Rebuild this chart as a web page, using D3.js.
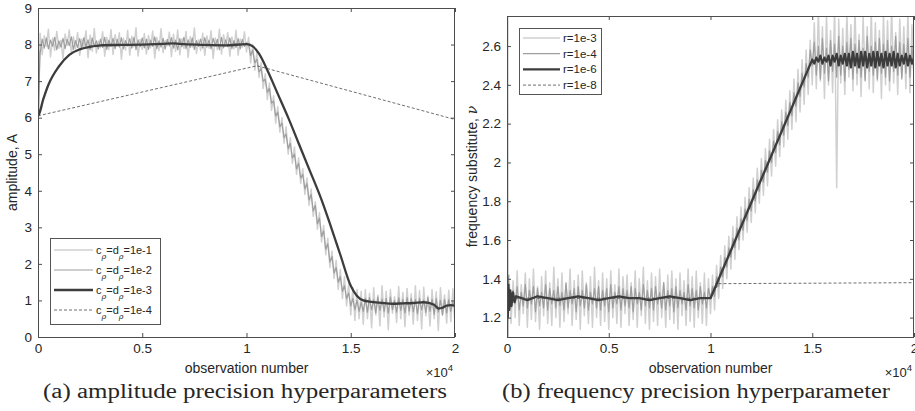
<!DOCTYPE html>
<html>
<head>
<meta charset="utf-8">
<script src="https://cdn.jsdelivr.net/npm/d3@7"></script>
<style>
  body { margin: 0; background: #fff; }
  svg text { font-family: "Liberation Sans", Arial, sans-serif; fill: #262626; }
  .caption { font-family: "Liberation Serif", "DejaVu Serif", serif; }
</style>
</head>
<body>
<div id="chart"></div>
<script>
// observations between consecutive samples of the noisy series
const STEP = 100;

const xTicks = [0, 5000, 10000, 15000, 20000];
const xTickLabels = ["0", "0.5", "1", "1.5", "2"];
const ampTicks = [0, 1, 2, 3, 4, 5, 6, 7, 8, 9];
const freqTicks = [1.2, 1.4, 1.6, 1.8, 2.0, 2.2, 2.4, 2.6];
const freqTickLabels = ["1.2", "1.4", "1.6", "1.8", "2", "2.2", "2.4", "2.6"];

const ampLegend = ["1e-1", "1e-2", "1e-3", "1e-4"];
const freqLegend = ["r=1e-3", "r=1e-4", "r=1e-6", "r=1e-8"];

// (a) c=d=1e-1, sampled every STEP observations
const amp1 = [6.0,
  8.31, 7.72, 8.24, 7.95, 8.42, 7.66, 8.18, 7.84, 8.36, 7.9,
  8.12, 7.61, 8.29, 7.98, 8.4, 7.75, 8.21, 7.88, 8.33, 7.7,
  8.15, 7.93, 8.38, 7.64, 8.26, 7.82, 8.44, 7.77, 8.1, 7.92,
  8.35, 7.68, 8.2, 7.86, 8.41, 7.73, 8.27, 7.96, 8.32, 7.6,
  8.17, 7.85, 8.39, 7.71, 8.23, 7.94, 8.46, 7.69, 8.14, 7.87,
  8.3, 7.74, 8.25, 7.91, 8.37, 7.63, 8.19, 7.83, 8.43, 7.78,
  8.11, 7.97, 8.34, 7.67, 8.28, 7.81, 8.4, 7.72, 8.16, 7.89,
  8.36, 7.65, 8.22, 7.93, 8.45, 7.76, 8.13, 7.84, 8.31, 7.7,
  8.24, 7.9, 8.38, 7.62, 8.18, 7.86, 8.42, 7.74, 8.27, 7.95,
  8.33, 7.68, 8.21, 7.88, 8.39, 7.71, 8.15, 7.92, 8.35, 7.8,
  8.2, 7.5, 8.0, 7.3, 7.8, 7.1, 7.5, 6.8, 7.2, 6.5,
  6.95, 6.2, 6.6, 5.85, 6.3, 5.6, 6.0, 5.3, 5.75, 5.0,
  5.45, 4.75, 5.2, 4.45, 4.9, 4.2, 4.6, 3.9, 4.35, 3.6,
  4.05, 3.3, 3.7, 2.95, 3.4, 2.6, 3.05, 2.25, 2.7, 1.9,
  2.35, 1.6, 2.1, 1.3, 1.85, 1.05, 1.65, 0.85, 1.45, 0.6,
  1.35, 0.45, 1.3, 0.5, 1.25,
  0.35, 1.3, 0.5, 1.2, 0.25, 1.35, 0.6, 1.15, 0.3, 1.4,
  0.55, 1.25, 0.2, 1.3, 0.65, 1.1, 0.4, 1.38, 0.5, 1.22,
  0.28, 1.33, 0.6, 1.18, 0.35, 1.4, 0.45, 1.27, 0.22, 1.36,
  0.58, 1.12, 0.3, 1.3, 0.5, 1.24, 0.18, 1.35, 0.62, 1.15,
  0.38, 1.28, 0.42, 1.32, 0.3];

// (a) c=d=1e-2
const amp2 = [6.0,
  7.75, 8.15, 7.9, 8.18, 7.88, 8.12, 7.95, 8.2, 7.86, 8.1,
  7.93, 8.17, 7.89, 8.14, 7.97, 8.21, 7.87, 8.11, 7.92, 8.16,
  7.9, 8.19, 7.94, 8.13, 7.86, 8.18, 7.96, 8.1, 7.88, 8.15,
  7.92, 8.2, 7.87, 8.12, 7.95, 8.17, 7.89, 8.14, 7.93, 8.19,
  7.88, 8.11, 7.96, 8.16, 7.9, 8.2, 7.86, 8.13, 7.94, 8.18,
  7.91, 8.15, 7.87, 8.12, 7.95, 8.21, 7.89, 8.1, 7.93, 8.17,
  7.88, 8.14, 7.96, 8.19, 7.9, 8.12, 7.86, 8.16, 7.94, 8.2,
  7.89, 8.13, 7.92, 8.18, 7.87, 8.11, 7.95, 8.15, 7.9, 8.19,
  7.93, 8.12, 7.88, 8.17, 7.96, 8.14, 7.86, 8.2, 7.91, 8.13,
  7.94, 8.18, 7.89, 8.11, 7.92, 8.16, 7.88, 8.14, 7.95, 8.05,
  8.0, 7.7, 7.85, 7.5, 7.6, 7.25, 7.35, 7.0, 7.05, 6.7,
  6.8, 6.4, 6.45, 6.05, 6.15, 5.75, 5.85, 5.45, 5.55, 5.15,
  5.3, 4.9, 5.0, 4.6, 4.75, 4.35, 4.45, 4.05, 4.2, 3.75,
  3.9, 3.45, 3.6, 3.1, 3.25, 2.75, 2.9, 2.4, 2.55, 2.05,
  2.2, 1.75, 1.9, 1.5, 1.65, 1.25, 1.4, 1.05, 1.2, 0.85,
  1.05, 0.75, 1.0, 0.7, 0.95,
  0.7, 1.05, 0.68, 1.08, 0.74, 1.02, 0.66, 1.1, 0.72, 1.04,
  0.7, 1.06, 0.65, 1.09, 0.75, 1.0, 0.68, 1.07, 0.73, 1.03,
  0.66, 1.08, 0.71, 1.05, 0.69, 1.02, 0.64, 1.06, 0.74, 1.01,
  0.67, 1.08, 0.7, 1.04, 0.62, 1.05, 0.68, 1.0, 0.6, 1.03,
  0.66, 1.02, 0.7, 0.98, 0.75];

// (a) c=d=1e-3
const amp3X = [0, 5, 250, 500, 1000, 1500, 2000, 2500, 3000, 4000,
  5000, 6000, 6500, 7000, 8000, 9000, 10000, 10300, 10600, 11000,
  11500, 12000, 12500, 13000, 13600, 14000, 14500, 15000, 15300, 15600,
  16000, 16500, 17000, 17500, 18000, 18500, 19000, 19200, 19400, 19600,
  19800, 20000];
const amp3Y = [7.85, 6.05, 6.5, 6.9, 7.4, 7.72, 7.87, 7.94, 7.98, 7.99,
  8.0, 8.02, 8.03, 8.01, 7.99, 7.98, 8.01, 7.95, 7.75, 7.3,
  6.65, 6.0, 5.3, 4.6, 3.75, 3.1, 2.25, 1.4, 1.12, 1.0,
  0.96, 0.93, 0.91, 0.92, 0.93, 0.95, 0.88, 0.78, 0.8, 0.86,
  0.87, 0.86];

// (a) c=d=1e-4
const amp4X = [0, 10500, 20000];
const amp4Y = [6.05, 7.42, 5.95];

// (b) r=1e-3
const freq3 = [1.3,
  1.42, 1.17, 1.39, 1.2, 1.44, 1.16, 1.37, 1.22, 1.43, 1.15,
  1.4, 1.19, 1.45, 1.18, 1.36, 1.14, 1.41, 1.21, 1.44, 1.17,
  1.38, 1.16, 1.46, 1.2, 1.4, 1.15, 1.43, 1.18, 1.37, 1.22,
  1.45, 1.16, 1.39, 1.19, 1.42, 1.14, 1.44, 1.21, 1.38, 1.17,
  1.41, 1.15, 1.46, 1.2, 1.39, 1.16, 1.43, 1.18, 1.4, 1.14,
  1.44, 1.2, 1.37, 1.17, 1.45, 1.15, 1.41, 1.22, 1.42, 1.16,
  1.38, 1.19, 1.44, 1.15, 1.4, 1.21, 1.46, 1.17, 1.39, 1.14,
  1.43, 1.18, 1.41, 1.16, 1.45, 1.2, 1.38, 1.15, 1.42, 1.19,
  1.44, 1.17, 1.4, 1.14, 1.43, 1.21, 1.39, 1.16, 1.45, 1.18,
  1.41, 1.15, 1.44, 1.2, 1.38, 1.17, 1.43, 1.16, 1.4, 1.22,
  1.42, 1.24, 1.47, 1.3, 1.52, 1.35, 1.57, 1.4, 1.62, 1.45,
  1.67, 1.5, 1.72, 1.55, 1.77, 1.6, 1.82, 1.64, 1.87, 1.69,
  1.92, 1.74, 1.97, 1.79, 2.02, 1.83, 2.07, 1.88, 2.12, 1.93,
  2.17, 1.98, 2.22, 2.03, 2.27, 2.08, 2.32, 2.12, 2.37, 2.17,
  2.43, 2.21, 2.48, 2.26, 2.53, 2.3, 2.58, 2.35, 2.63, 2.4,
  2.72, 2.38, 2.78, 2.42, 2.7, 2.33, 2.76, 2.4, 2.68, 2.36,
  2.8, 1.87, 2.74, 2.41, 2.69, 2.35, 2.77, 2.44, 2.71, 2.37,
  2.79, 2.4, 2.66, 2.34, 2.75, 2.43, 2.7, 2.38, 2.78, 2.36,
  2.72, 2.42, 2.68, 2.33, 2.76, 2.4, 2.73, 2.37, 2.8, 2.41,
  2.67, 2.35, 2.74, 2.44, 2.7, 2.38, 2.77, 2.36, 2.71, 2.42];

// (b) r=1e-4
const freq4 = [1.3,
  1.35, 1.25, 1.34, 1.27, 1.36, 1.24, 1.33, 1.26, 1.37, 1.25,
  1.34, 1.27, 1.36, 1.23, 1.35, 1.26, 1.33, 1.25, 1.37, 1.24,
  1.35, 1.27, 1.34, 1.25, 1.36, 1.26, 1.33, 1.24, 1.38, 1.25,
  1.34, 1.27, 1.35, 1.23, 1.36, 1.26, 1.34, 1.25, 1.37, 1.24,
  1.33, 1.27, 1.35, 1.25, 1.36, 1.24, 1.34, 1.26, 1.35, 1.23,
  1.37, 1.25, 1.33, 1.27, 1.36, 1.24, 1.35, 1.26, 1.34, 1.25,
  1.36, 1.23, 1.35, 1.27, 1.33, 1.24, 1.37, 1.26, 1.34, 1.25,
  1.35, 1.24, 1.36, 1.27, 1.33, 1.25, 1.38, 1.24, 1.34, 1.26,
  1.35, 1.23, 1.36, 1.25, 1.34, 1.27, 1.33, 1.24, 1.37, 1.26,
  1.35, 1.25, 1.34, 1.24, 1.36, 1.27, 1.33, 1.25, 1.35, 1.3,
  1.36, 1.31, 1.41, 1.36, 1.46, 1.41, 1.51, 1.46, 1.56, 1.51,
  1.61, 1.56, 1.66, 1.6, 1.71, 1.65, 1.76, 1.7, 1.81, 1.75,
  1.86, 1.8, 1.91, 1.85, 1.96, 1.9, 2.01, 1.95, 2.06, 2.0,
  2.11, 2.05, 2.16, 2.09, 2.21, 2.14, 2.26, 2.19, 2.31, 2.24,
  2.36, 2.29, 2.41, 2.34, 2.46, 2.39, 2.51, 2.44, 2.58, 2.5,
  2.62, 2.45, 2.6, 2.43, 2.64, 2.46, 2.59, 2.42, 2.63, 2.47,
  2.61, 2.44, 2.65, 2.45, 2.6, 2.42, 2.62, 2.48, 2.64, 2.43,
  2.61, 2.46, 2.63, 2.44, 2.59, 2.42, 2.65, 2.47, 2.6, 2.45,
  2.62, 2.43, 2.64, 2.46, 2.61, 2.44, 2.63, 2.42, 2.6, 2.47,
  2.65, 2.45, 2.62, 2.43, 2.61, 2.46, 2.64, 2.44, 2.6, 2.45];

// (b) r=1e-6: start-up transient, flat part and ramp
const freq6X = [0, 5, 15, 40, 70, 110, 160, 220, 290, 370, 450,
  1000, 1500, 2000, 2500, 3000, 3500, 4000, 4500, 5000, 5500,
  6000, 6500, 7000, 7500, 8000, 8500, 9000, 9500, 10000, 15000];
const freq6Y = [3.0, 0.95, 1.42, 1.2, 1.37, 1.24, 1.34, 1.26, 1.33, 1.28, 1.31,
  1.29, 1.31, 1.3, 1.29, 1.3, 1.31, 1.3, 1.29, 1.3, 1.31,
  1.3, 1.3, 1.29, 1.3, 1.31, 1.3, 1.29, 1.3, 1.3, 2.53];
// (b) r=1e-6 after 15000, every STEP observations
const freq6Tail = [
  2.51, 2.54, 2.52, 2.55, 2.51, 2.54, 2.52, 2.55, 2.5, 2.55,
  2.52, 2.56, 2.5, 2.55, 2.51, 2.56, 2.5, 2.56, 2.49, 2.57,
  2.5, 2.56, 2.49, 2.57, 2.5, 2.57, 2.49, 2.56, 2.5, 2.57,
  2.49, 2.57, 2.5, 2.56, 2.49, 2.57, 2.5, 2.56, 2.5, 2.57,
  2.49, 2.56, 2.5, 2.55, 2.51, 2.56, 2.5, 2.55, 2.51, 2.54];

// (b) r=1e-8
const freq8X = [0, 10000, 10400, 20000];
const freq8Y = [1.3, 1.3, 1.375, 1.38];

const width = 915, height = 411;
const svg = d3.select('#chart').append('svg')
  .attr('width', width)
  .attr('height', height);

const stepped = (arr, start) => arr.map((v, i) => [start + i * STEP, v]);
const paired = (xs, ys) => xs.map((x, i) => [x, ys[i]]);

const styles = [
  { stroke: '#d0d0d0', width: 1.5, dash: null },
  { stroke: '#9e9e9e', width: 1.2, dash: null },
  { stroke: '#3c3c3c', width: 2.3, dash: null },
  { stroke: '#4a4a4a', width: 0.8, dash: '3,2' }
];

function drawPanel(cfg) {
  const x = d3.scaleLinear().domain([0, 20000]).range([cfg.left, cfg.right]);
  const y = d3.scaleLinear().domain(cfg.yDomain).range([cfg.bottom, cfg.top]);
  const g = svg.append('g');

  const clipId = 'clip-' + cfg.id;
  svg.append('clipPath').attr('id', clipId)
    .append('rect')
    .attr('x', cfg.left).attr('y', cfg.top)
    .attr('width', cfg.right - cfg.left).attr('height', cfg.bottom - cfg.top);

  const plot = g.append('g').attr('clip-path', `url(#${clipId})`);
  cfg.series.forEach((s, i) => {
    const line = d3.line().x(d => x(d[0])).y(d => y(d[1]))
      .curve(cfg.curves && cfg.curves[i] ? cfg.curves[i] : d3.curveLinear);
    plot.append('path')
      .datum(s)
      .attr('fill', 'none')
      .attr('stroke', styles[i].stroke)
      .attr('stroke-width', styles[i].width)
      .attr('stroke-dasharray', styles[i].dash)
      .attr('stroke-linejoin', 'round')
      .attr('d', line);
  });

  // axes, ticks pointing inwards on all four sides
  const axisColor = '#4d4d4d';
  const bottomAxis = g.append('g').attr('transform', `translate(0,${cfg.bottom})`)
    .call(d3.axisBottom(x).tickValues(xTicks).tickFormat((d, i) => xTickLabels[i])
      .tickSizeInner(-4).tickSizeOuter(0).tickPadding(6));
  const topAxis = g.append('g').attr('transform', `translate(0,${cfg.top})`)
    .call(d3.axisTop(x).tickValues(xTicks).tickFormat('').tickSizeInner(-4).tickSizeOuter(0));
  const leftAxis = g.append('g').attr('transform', `translate(${cfg.left},0)`)
    .call(d3.axisLeft(y).tickValues(cfg.yTicks).tickFormat((d, i) => cfg.yTickLabels[i])
      .tickSizeInner(-4).tickSizeOuter(0).tickPadding(6));
  const rightAxis = g.append('g').attr('transform', `translate(${cfg.right},0)`)
    .call(d3.axisRight(y).tickValues(cfg.yTicks).tickFormat('').tickSizeInner(-4).tickSizeOuter(0));
  [bottomAxis, topAxis, leftAxis, rightAxis].forEach(a => {
    a.select('.domain').remove();
    a.selectAll('line').attr('stroke', axisColor);
    a.selectAll('text').attr('font-size', 13.5).attr('fill', '#262626')
      .attr('font-family', '"Liberation Sans", Arial, sans-serif');
  });
  g.append('rect')
    .attr('x', cfg.left + 0.5).attr('y', cfg.top + 0.5)
    .attr('width', cfg.right - cfg.left - 1).attr('height', cfg.bottom - cfg.top)
    .attr('fill', 'none').attr('stroke', axisColor).attr('stroke-width', 1);

  // axis labels
  const midX = (cfg.left + cfg.right) / 2;
  g.append('text').attr('x', midX).attr('y', cfg.bottom + 36)
    .attr('text-anchor', 'middle').attr('font-size', 14).text('observation number');
  const mult = g.append('text').attr('x', cfg.right - 2).attr('y', cfg.bottom + 40)
    .attr('text-anchor', 'end').attr('font-size', 13);
  mult.append('tspan').text('\u00d710');
  mult.append('tspan').attr('font-size', 9.5).attr('dy', -6).text('4');

  const ylab = g.append('text')
    .attr('transform', `translate(${cfg.yLabelX},${(cfg.top + cfg.bottom) / 2}) rotate(-90)`)
    .attr('text-anchor', 'middle').attr('font-size', 14);
  ylab.append('tspan').text(cfg.yLabel);
  if (cfg.yLabelSymbol) {
    ylab.append('tspan').attr('font-family', '"DejaVu Serif", serif').attr('font-style', 'italic')
      .text(cfg.yLabelSymbol);
  }

  // caption
  g.append('text').attr('class', 'caption')
    .attr('x', cfg.captionX).attr('y', 398)
    .attr('font-size', 20).attr('fill', '#111')
    .attr('textLength', cfg.captionLen).attr('lengthAdjust', 'spacingAndGlyphs')
    .text(cfg.caption);

  // legend
  const L = cfg.legend;
  const leg = g.append('g');
  leg.append('rect')
    .attr('x', L.x + 0.5).attr('y', L.y + 0.5).attr('width', L.w).attr('height', L.h)
    .attr('fill', '#fff').attr('stroke', '#555').attr('stroke-width', 1);
  L.labels.forEach((lab, i) => {
    const ry = L.y + L.rowTop + i * L.rowGap;
    leg.append('line')
      .attr('x1', L.x + 4).attr('x2', L.x + L.lineLen)
      .attr('y1', ry).attr('y2', ry)
      .attr('stroke', styles[i].stroke)
      .attr('stroke-width', styles[i].width)
      .attr('stroke-dasharray', styles[i].dash);
    L.render(leg.append('text')
      .attr('x', L.x + L.lineLen + 3).attr('y', ry + 4)
      .attr('font-size', L.fontSize), lab);
  });
}

drawPanel({
  id: 'a',
  left: 38, right: 455, top: 8, bottom: 337,
  yDomain: [0, 9], yTicks: ampTicks, yTickLabels: ampTicks.map(String),
  series: [stepped(amp1, 0), stepped(amp2, 0), paired(amp3X, amp3Y), paired(amp4X, amp4Y)],
  curves: [null, null, d3.curveMonotoneX, null],
  yLabel: 'amplitude, A', yLabelX: 17,
  caption: '(a) amplitude precision hyperparameters', captionX: 43, captionLen: 404,
  legend: {
    x: 50, y: 238, w: 110, h: 86, rowTop: 12, rowGap: 20, lineLen: 43, fontSize: 11,
    labels: ampLegend,
    render: (t, lab) => {
      t.append('tspan').text('c');
      t.append('tspan').attr('font-size', 8).attr('font-family', '"DejaVu Serif", serif')
        .attr('font-style', 'italic').attr('dy', 5).text('\u03c1');
      t.append('tspan').attr('dy', -5).text('=d');
      t.append('tspan').attr('font-size', 8).attr('font-family', '"DejaVu Serif", serif')
        .attr('font-style', 'italic').attr('dy', 5).text('\u03c1');
      t.append('tspan').attr('dy', -5).text('=' + lab);
    }
  }
});

drawPanel({
  id: 'b',
  left: 507, right: 914, top: 16, bottom: 337,
  yDomain: [1.1, 2.755], yTicks: freqTicks, yTickLabels: freqTickLabels,
  series: [stepped(freq3, 0), stepped(freq4, 0),
    paired(freq6X, freq6Y).concat(stepped(freq6Tail, 15100)), paired(freq8X, freq8Y)],
  yLabel: 'frequency substitute, ', yLabelSymbol: '\u03bd', yLabelX: 477,
  caption: '(b) frequency precision hyperparameter', captionX: 502, captionLen: 388,
  legend: {
    x: 519, y: 28, w: 82, h: 66, rowTop: 10, rowGap: 15.7, lineLen: 41, fontSize: 11.5,
    labels: freqLegend,
    render: (t, lab) => t.text(lab)
  }
});
</script>
</body>
</html>
